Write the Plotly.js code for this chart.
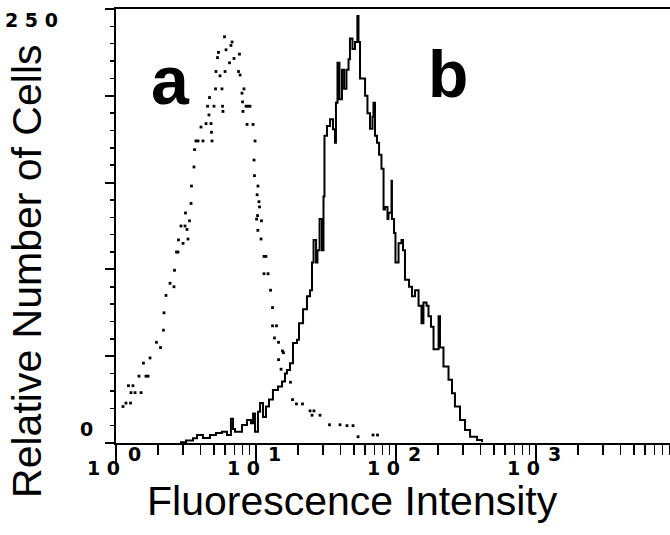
<!DOCTYPE html>
<html>
<head>
<meta charset="utf-8">
<script src="https://cdn.plot.ly/plotly-3.0.1.min.js"></script>
<style>
  html, body { margin: 0; padding: 0; background: #fff; }
  #chart { width: 670px; height: 535px; }
</style>
</head>
<body>
<div id="chart"></div>
<script>
// Data: x given as log10(fluorescence intensity), y = relative number of cells
// Series a (dotted histogram, control)
const aLogIntensity = [
  0.050,0.071,0.089,0.104,0.107,0.121,0.136,0.164,0.179,0.196,0.214,0.229,0.243,0.289,0.318,0.339,
  0.343,0.357,0.386,0.414,0.418,0.432,0.443,0.446,0.464,0.479,0.493,0.496,0.507,0.514,0.525,0.536,
  0.539,0.557,0.561,0.571,0.586,0.607,0.621,0.643,0.654,0.664,0.668,0.679,0.682,0.686,0.700,0.711,
  0.714,0.725,0.732,0.743,0.757,0.761,0.764,0.775,0.779,0.786,0.811,0.821,0.829,0.843,0.875,0.882,
  0.886,0.900,0.904,0.907,0.914,0.929,0.936,0.943,0.957,0.979,0.986,0.989,0.993,1.004,1.008,1.011,
  1.013,1.014,1.021,1.025,1.036,1.039,1.057,1.057,1.071,1.086,1.104,1.118,1.118,1.132,1.146,1.161,
  1.161,1.179,1.189,1.196,1.246,1.261,1.289,1.332,1.386,1.400,1.414,1.457,1.525,1.600,1.650,1.693,
  1.729,1.836,1.868
];
const aCells = [
  21,23,33,23,29,33,29,38.5,29,46,38.5,38.5,49,58,55,65,
  75,85,92,90,99.5,110,110,117,125,115,125,132.5,123,117.5,128,138,
  148,159,169,174,174,182,174,184,194,189,199,184,179,174,194,204,
  214,222,225,211.5,204,194,191,234,214,226.5,219,229,231,221.5,214,224,
  212,201.5,196.5,191,204,194,183.5,194,194,183.5,163,154,174,129,143,131,
  122.5,148,139,136,117.5,128,107.5,97.5,107.5,97.5,88,78,67.5,60.5,67.5,58,
  48,42.5,53,52,35,25,22.5,22.5,18.5,16,18.5,16,10.5,10.5,10,10,
  3.6,4.6,4.6
];

// Series b (solid histogram, stained)
const bLogIntensity = [
  0.457,0.500,0.550,0.579,0.621,0.671,0.714,0.757,0.793,0.821,0.836,0.850,0.900,0.936,0.964,0.979,
  0.993,1.014,1.029,1.050,1.071,1.093,1.121,1.157,1.186,1.207,1.221,1.243,1.264,1.293,1.307,1.336,
  1.364,1.386,1.400,1.411,1.429,1.439,1.454,1.471,1.482,1.489,1.507,1.529,1.550,1.564,1.571,1.582,
  1.596,1.614,1.629,1.646,1.661,1.671,1.689,1.707,1.724,1.732,1.743,1.761,1.779,1.796,1.814,1.832,
  1.839,1.850,1.864,1.879,1.896,1.911,1.921,1.939,1.946,1.968,1.971,1.986,1.996,2.018,2.039,2.050,
  2.064,2.093,2.114,2.136,2.161,2.182,2.196,2.218,2.232,2.250,2.268,2.279,2.304,2.314,2.339,2.375,
  2.400,2.421,2.457,2.493,2.529,2.579,2.614
];
const bCells = [
  0.5,1.5,2.7,4.6,2.9,4.6,5.8,6.5,4.6,14,8,6.5,10.4,13.3,11.4,17,
  6.5,18,23,15,21,25,30.6,32.5,35.4,40,42,46,57.6,59.5,69,77,
  84.5,88,104,117,104,111,129,111,142,177,182.6,186.5,180.7,173,196,219,
  198,215,204,215,221,233,227,231,246,231,210,210,200,190,181,188,
  196,177,173,166,158,134.5,136,129,132.6,151,129,121,104,115,117,111,
  94,90,84.5,88,79,69,81,79,73,67,54,54,73,55,44,36.4,
  28.7,21,13.3,7.5,3.6,1.7,0.5
];

// Axis labels
const decadeExponents = [0, 1, 2, 3];
const yLabelTexts = ['0', '2 5 0'];
const xTitle = 'Fluorescence Intensity';
const yTitle = 'Relative Number of Cells';
const panelLabels = ['a', 'b'];

const toIntensity = arr => arr.map(d => Math.pow(10, d));

const traces = [
  {
    x: toIntensity(aLogIntensity), y: aCells,
    type: 'scatter', mode: 'markers',
    marker: { color: '#000', size: 2.8, symbol: 'square' },
    hoverinfo: 'skip', showlegend: false
  },
  {
    x: toIntensity(bLogIntensity), y: bCells,
    type: 'scatter', mode: 'lines',
    line: { color: '#000', width: 2, shape: 'hv' },
    hoverinfo: 'skip', showlegend: false
  }
];

// plot area: 116..670 px wide (554), 9..443 px tall (434); 140 px per decade
const XRANGE = 3.957;
const decPaper = n => n / XRANGE;
const pxPaper = px => px / 554;
const digitFont = { family: 'DejaVu Sans', size: 19, color: '#000', weight: 'bold' };
const annotations = [];
decadeExponents.forEach(n => {
  annotations.push({ xref: 'paper', yref: 'paper', x: decPaper(n) - pxPaper(13), y: -0.057,
    text: '1 0', showarrow: false, xanchor: 'center', yanchor: 'middle', font: digitFont });
  annotations.push({ xref: 'paper', yref: 'paper', x: decPaper(n) + pxPaper(18), y: -0.026,
    text: String(n), showarrow: false, xanchor: 'center', yanchor: 'middle', font: digitFont });
});
annotations.push({ xref: 'paper', yref: 'paper', x: -0.054, y: 0.032, text: yLabelTexts[0],
  showarrow: false, xanchor: 'center', yanchor: 'middle', font: digitFont });
annotations.push({ xref: 'paper', yref: 'paper', x: -0.152, y: 0.975, text: yLabelTexts[1],
  showarrow: false, xanchor: 'center', yanchor: 'middle', font: digitFont });
annotations.push({ xref: 'paper', yref: 'paper', x: 0.426, y: -0.133, text: xTitle,
  showarrow: false, xanchor: 'center', yanchor: 'middle',
  font: { family: 'Liberation Sans', size: 41, color: '#000' } });
annotations.push({ xref: 'paper', yref: 'paper', x: -0.161, y: 0.396, text: yTitle, textangle: -90,
  showarrow: false, xanchor: 'center', yanchor: 'middle',
  font: { family: 'Liberation Sans', size: 41, color: '#000' } });
annotations.push({ xref: 'paper', yref: 'paper', x: 0.0975, y: 0.836, text: '<b>' + panelLabels[0] + '</b>',
  showarrow: false, xanchor: 'center', yanchor: 'middle',
  font: { family: 'Liberation Sans', size: 68, color: '#000' } });
annotations.push({ xref: 'paper', yref: 'paper', x: 0.599, y: 0.850, text: '<b>' + panelLabels[1] + '</b>',
  showarrow: false, xanchor: 'center', yanchor: 'middle',
  font: { family: 'Liberation Sans', size: 66, color: '#000' } });

const layout = {
  width: 670, height: 535,
  margin: { l: 116, r: 0, t: 9, b: 92, pad: 0 },
  paper_bgcolor: '#fff', plot_bgcolor: '#fff',
  showlegend: false,
  xaxis: {
    type: 'log', range: [0, XRANGE], dtick: 1,
    showgrid: false, zeroline: false,
    showline: true, linecolor: '#000', linewidth: 2, mirror: true,
    ticks: 'outside', ticklen: 20, tickwidth: 2, tickcolor: '#000',
    showticklabels: false,
    minor: { ticks: 'outside', ticklen: 10, tickwidth: 1.5, tickcolor: '#000', dtick: 'D1', showgrid: false }
  },
  yaxis: {
    range: [0, 250], dtick: 50,
    showgrid: false, zeroline: false,
    showline: true, linecolor: '#000', linewidth: 2,
    ticks: 'outside', ticklen: 9, tickwidth: 2, tickcolor: '#000',
    showticklabels: false,
    minor: { ticks: 'outside', ticklen: 4, tickwidth: 1.5, tickcolor: '#000', dtick: 10, showgrid: false }
  },
  annotations: annotations
};

Plotly.newPlot('chart', traces, layout, { staticPlot: true, displayModeBar: false });
</script>
</body>
</html>
